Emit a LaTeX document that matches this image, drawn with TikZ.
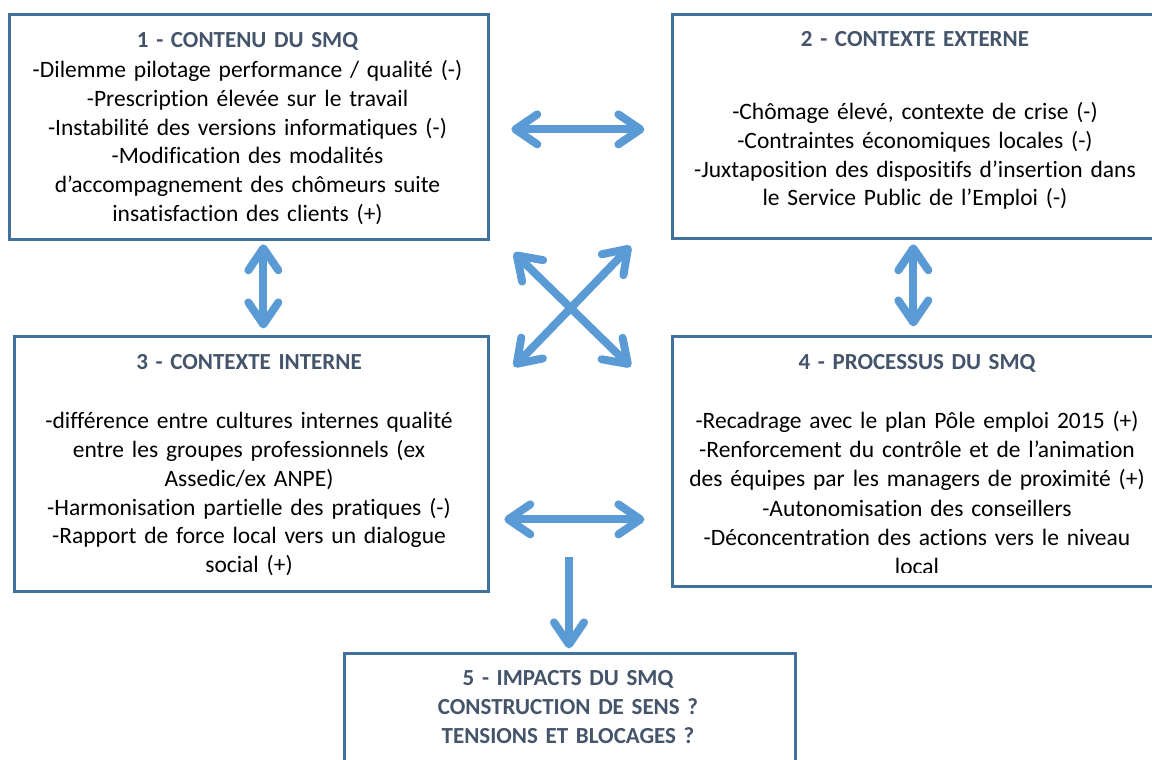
\documentclass[tikz,border=0pt]{standalone}
\usepackage{fontspec}
\setmainfont{Carlito}[Ligatures=NoCommon]
\usetikzlibrary{arrows.meta}
\definecolor{boxline}{HTML}{41719C}
\definecolor{arrowblue}{HTML}{5B9BD5}
\definecolor{titleblue}{HTML}{44546A}
\begin{document}
\begin{tikzpicture}[x=1pt,y=-1pt,
  box/.style={draw=boxline, line width=2.7pt, rectangle, inner sep=0pt, anchor=north west},
  body/.style={font=\fontsize{23.5}{28.9}\selectfont, align=center, text width=520pt, inner sep=0pt, anchor=base},
  ttl/.style={font=\fontsize{23}{29}\selectfont\bfseries, text=titleblue, align=center, text width=460pt, inner sep=0pt, anchor=base},
  barb/.tip={Straight Barb[length=22pt,width=30pt,round]},
  dbl/.style={draw=arrowblue, line width=8pt, barb-barb},
  sgl/.style={draw=arrowblue, line width=8pt, -barb},
]
\clip (0,0) rectangle (1152,760);
\useasboundingbox (0,0) rectangle (1152,760);

% boxes
\node[box, minimum width=479pt, minimum height=225pt] (b1) at (8,13) {};
\node[box, minimum width=488pt, minimum height=224pt] (b2) at (671,13) {};
\node[box, minimum width=474pt, minimum height=255pt] (b3) at (13,335) {};
\node[box, minimum width=492pt, minimum height=250pt] (b4) at (671,335) {};
\node[box, minimum width=451pt, minimum height=150pt] (b5) at (343,652) {};

% titles
\node[ttl] (t1) at (247.5,47.3) {1 - CONTENU DU SMQ};
\node[ttl] (t2) at (915,46.7) {2 - CONTEXTE EXTERNE};
\node[ttl] (t3) at (249,369.3) {3 - CONTEXTE INTERNE};
\node[ttl] (t4) at (917,369.3) {4 - PROCESSUS DU SMQ};
\node[ttl] (t5) at (568,685) {5 - IMPACTS DU SMQ\\CONSTRUCTION DE SENS ?\\TENSIONS ET BLOCAGES ?};

% body texts
\node[body] (x1) at (247.5,77.3) {-Dilemme pilotage performance / qualité (-)\\
-Prescription élevée sur le travail\\
-Instabilité des versions informatiques (-)\\
-Modification des modalités\\
d’accompagnement des chômeurs suite\\
insatisfaction des clients (+)};
\node[body] (x2) at (915,119.3) {-Chômage élevé, contexte de crise (-)\\
-Contraintes économiques locales (-)\\
-Juxtaposition des dispositifs d’insertion dans\\
le Service Public de l’Emploi (-)};
\node[body] (x3) at (249,428.3) {-différence entre cultures internes qualité\\
entre les groupes professionnels (ex\\
Assedic/ex ANPE)\\
-Harmonisation partielle des pratiques (-)\\
-Rapport de force local vers un dialogue\\
social (+)};
\begin{scope}
\clip (671,335) rectangle (1160,572.5);
\node[body, font=\fontsize{23.5}{29.3}\selectfont] (x4) at (917,428.3) {-Recadrage avec le plan Pôle emploi 2015 (+)\\
-Renforcement du contrôle et de l’animation\\
des équipes par les managers de proximité (+)\\
-Autonomisation des conseillers\\
-Déconcentration des actions vers le niveau\\
local};
\end{scope}

% connectors
\draw[dbl, shorten <=21.6pt, shorten >=26.6pt] ([yshift=-2.5pt]b1.east) -- ([yshift=-2.5pt]b1.east -| b2.west);
\draw[dbl, shorten <=3.6pt, shorten >=6.6pt] ([xshift=14.5pt]b1.south) -- ([xshift=14.5pt]b1.south |- b3.north);
\draw[dbl, shorten <=4.6pt, shorten >=8.6pt] ([xshift=-3pt]b2.south) -- ([xshift=-3pt]b2.south |- b4.north);
\draw[dbl, shorten <=14.6pt, shorten >=26.6pt] ([yshift=-55.5pt]b3.east) -- ([yshift=-55.5pt]b3.east -| b4.west);

\coordinate (xul) at (514,252.7);
\coordinate (xlr) at (630.7,366.7);
\coordinate (xur) at (630.7,246);
\coordinate (xll) at (514,366.7);
\draw[dbl] (xul) -- (xlr);
\draw[dbl] (xur) -- (xll);

\coordinate (ds) at (569,557);
\draw[sgl, shorten >=3.6pt] (ds) -- (ds |- b5.north);
\end{tikzpicture}
\end{document}
